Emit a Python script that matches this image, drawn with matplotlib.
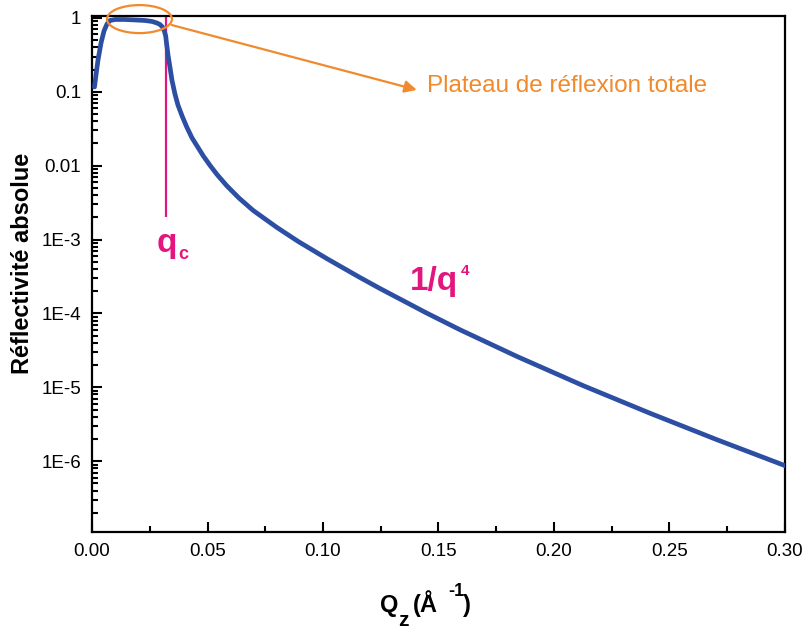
import matplotlib

matplotlib.use("Agg")
import matplotlib.pyplot as plt
from matplotlib.patches import Ellipse
from matplotlib.ticker import FixedLocator, LogLocator, MultipleLocator, NullFormatter

plt.rcParams["font.family"] = ["Liberation Sans", "DejaVu Sans"]

# reflectivity curve
q_values = [
    0.00108, 0.00173, 0.0026, 0.0039, 0.0052, 0.0065, 0.0078, 0.0100, 0.0143,
    0.0186, 0.0229, 0.0260, 0.0281, 0.0294, 0.0305, 0.0313, 0.0319, 0.0323,
    0.0329, 0.0338, 0.0346, 0.0359, 0.0372, 0.0390, 0.0410, 0.0433, 0.0459,
    0.0482, 0.0511, 0.0541, 0.0583, 0.0636, 0.0698, 0.0800, 0.0893, 0.1016,
    0.1160, 0.1247, 0.1449, 0.1593, 0.1839, 0.2127, 0.2416, 0.2704, 0.3000,
]
r_values = [
    0.116, 0.169, 0.269, 0.457, 0.665, 0.827, 0.922, 0.951, 0.951,
    0.937, 0.922, 0.894, 0.853, 0.814, 0.753, 0.665, 0.569, 0.443,
    0.315, 0.210, 0.144, 0.0934, 0.0662, 0.0470, 0.0334, 0.0237, 0.0176,
    0.0135, 0.01007, 0.0076, 0.00536, 0.00365, 0.00247, 0.00146, 9.4e-4, 5.53e-4,
    3.06e-4, 2.17e-4, 1.01e-4, 6.01e-5, 2.62e-5, 1.05e-5, 4.45e-6, 1.96e-6, 8.7e-7,
]

q_critical = 0.032
y_ticks = [1e-6, 1e-5, 1e-4, 1e-3, 1e-2, 1e-1, 1]
y_tick_labels = ["1E-6", "1E-5", "1E-4", "1E-3", "0.01", "0.1", "1"]
x_ticks = [0.00, 0.05, 0.10, 0.15, 0.20, 0.25, 0.30]

BLUE = "#2d4fa3"
PINK = "#e3157e"
ORANGE = "#f08a2c"

fig = plt.figure(figsize=(8.06, 6.29), dpi=100)
ax = fig.add_axes([92 / 806, 1 - 532 / 629, 693 / 806, 516 / 629])

ax.plot(q_values, r_values, color=BLUE, linewidth=3.4, solid_capstyle="round",
        solid_joinstyle="round", zorder=3)
ax.set_yscale("log")
ax.set_xlim(0, 0.30)
ax.set_ylim(1.1e-7, 1.06)

ax.yaxis.set_major_locator(FixedLocator(y_ticks))
ax.set_yticklabels(y_tick_labels)
ax.yaxis.set_minor_locator(LogLocator(base=10, subs=range(2, 10)))
ax.yaxis.set_minor_formatter(NullFormatter())
ax.set_xticks(x_ticks)
ax.set_xticklabels([f"{v:.2f}" for v in x_ticks])
ax.xaxis.set_minor_locator(MultipleLocator(0.025))

ax.tick_params(which="both", direction="in", width=1.5, labelsize=13.5, top=False, right=False)
ax.tick_params(which="major", length=7.5, pad=8)
ax.tick_params(which="minor", length=4)
for spine in ax.spines.values():
    spine.set_linewidth(1.6)

ax.set_ylabel("Réflectivité absolue", fontsize=17, fontweight="bold")
ax.yaxis.set_label_coords(-0.084, 0.521)

# x label built from pieces to keep the odd sub/superscript placement
fig.text(380 / 806, 1 - 612 / 629, "Q", fontsize=17, fontweight="bold")
fig.text(398 / 806, 1 - 626 / 629, "z", fontsize=15, fontweight="bold")
fig.text(413 / 806, 1 - 612 / 629, "(Å", fontsize=17, fontweight="bold")
fig.text(448 / 806, 1 - 596 / 629, "-1", fontsize=13, fontweight="bold")
fig.text(463 / 806, 1 - 612 / 629, ")", fontsize=17, fontweight="bold")

# critical wavevector marker
ax.vlines(q_critical, 2.0e-3, 1.06, color=PINK, linewidth=1.6, zorder=2)
ax.text(0.0281, 6.7e-4, "q", color=PINK, fontsize=24, fontweight="bold", va="baseline")
ax.text(0.0372, 5.45e-4, "c", color=PINK, fontsize=13, fontweight="bold", va="baseline")
ax.text(0.1377, 2.06e-4, "1/q", color=PINK, fontsize=24, fontweight="bold", va="baseline")
ax.text(0.1597, 3.3e-4, "4", color=PINK, fontsize=11, fontweight="bold", va="baseline")

# plateau annotation
ax.add_patch(
    Ellipse((0.0685, 0.994), 0.0938, 0.0543, transform=ax.transAxes,
            fill=False, edgecolor=ORANGE, linewidth=1.6, clip_on=False, zorder=4)
)
ax.annotate(
    "", xy=(0.1406, 0.106), xytext=(0.0345, 0.80),
    arrowprops=dict(arrowstyle="-|>", color=ORANGE, lw=1.6, mutation_scale=18,
                    shrinkA=0, shrinkB=0),
)
ax.text(0.145, 0.12, "Plateau de réflexion totale", color=ORANGE, fontsize=17.5,
        va="center", ha="left")

fig.savefig("out.png", dpi=100)
